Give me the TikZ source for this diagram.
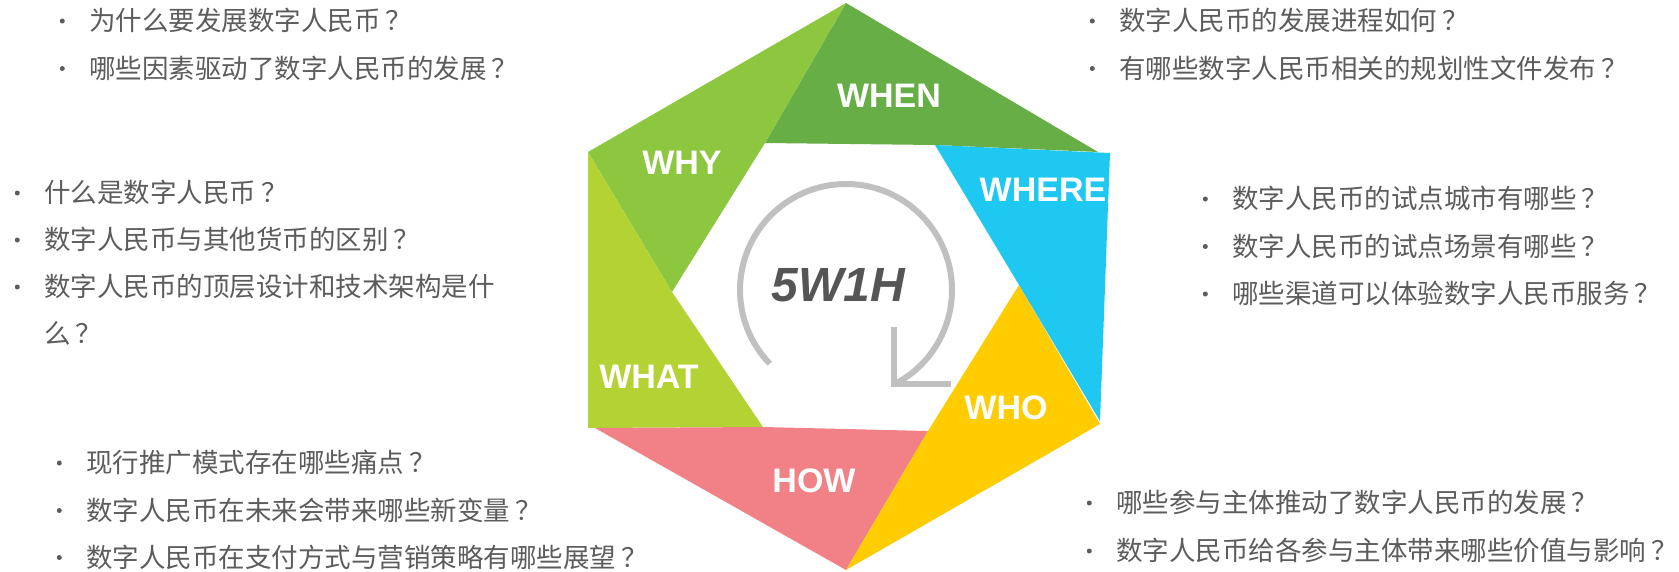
\documentclass[tikz,border=0pt]{standalone}
\usepackage{fontspec}
\setmainfont{Liberation Sans}
\newfontfamily\cjk{Noto Sans CJK SC}
\usetikzlibrary{positioning}
\definecolor{whyfill}{HTML}{8DC63F}
\definecolor{whenfill}{HTML}{67AE46}
\definecolor{wherefill}{HTML}{1FC8F1}
\definecolor{whofill}{HTML}{FFCC00}
\definecolor{howfill}{HTML}{F28187}
\definecolor{whatfill}{HTML}{B3D334}
\definecolor{qgray}{HTML}{5C5C5C}
\definecolor{ringgray}{HTML}{C0C0C0}
\definecolor{titlegray}{HTML}{555555}
% question mark set a little apart, as in the original
\newcommand{\qmark}{\kern0.2em？}

\begin{document}
\begin{tikzpicture}[
        x=1pt, y=-1pt,
        qline/.style={anchor=west, inner sep=0pt, text=qgray,
                      font=\cjk\fontsize{26.5}{30}\selectfont,
                      text height=22pt, text depth=3pt},
        qitem/.style={qline, label={[qdot]left:{}}},
        qdot/.style={circle, fill=qgray, minimum size=5pt, inner sep=0pt,
                     xshift=-24pt},
        seglabel/.style={text=white, font=\bfseries\fontsize{34}{34}\selectfont},
        ring/.style={draw=ringgray, line width=6pt}
    ]
    \fill[white] (0,0) rectangle (1679,571);
    \useasboundingbox (0,0) rectangle (1679,571);

    %% outer and inner corners of the hexagon
    \coordinate (top) at (846,3);
    \coordinate (ur)  at (1098,152);
    \coordinate (urc) at (1110,153);
    \coordinate (lrc) at (1100,421);
    \coordinate (lr)  at (1100,424);
    \coordinate (bot) at (846,570);
    \coordinate (llp) at (595,428);
    \coordinate (ll)  at (588,428);
    \coordinate (ul)  at (588,152);
    \coordinate (itl) at (765,143);
    \coordinate (itr) at (935,145);
    \coordinate (ir)  at (1019,285);
    \coordinate (ibr) at (928,431);
    \coordinate (ibl) at (763,427);
    \coordinate (il)  at (672,292);

    %% the six pieces
    \fill[whenfill]  (top) -- (ur) -- (itr) -- (itl) -- cycle;
    \fill[whyfill]   (ul) -- (top) -- (itl) -- (il) -- cycle;
    \fill[whatfill]  (ll) -- (ul) -- (il) -- (ibl) -- cycle;
    \fill[howfill]   (bot) -- (llp) -- (ibl) -- (ibr) -- cycle;
    \fill[whofill]   (lr) -- (bot) -- (ibr) -- (ir) -- cycle;
    \fill[wherefill] (urc) -- (lrc) -- (ir) -- (itr) -- cycle;

    \node[seglabel] (why)   at (682,163) {WHY};
    \node[seglabel] (when)  at (889,96)  {WHEN};
    \node[seglabel] (where) at (1043,190) {WHERE};
    \node[seglabel] (what)  at (649,377) {WHAT};
    \node[seglabel] (who)   at (1006,408) {WHO};
    \node[seglabel] (how)   at (814,481) {HOW};

    %% centre: ring arrow and title
    \coordinate (cen) at (846,290);
    \draw[ring] (cen) ++(-224:106) arc[start angle=-224, end angle=63, radius=106]
          coordinate (tip);
    \draw[ring, line join=miter] (tip) ++(0,-57) -- (tip) -- ++(57,0);
    \node[text=titlegray, font=\bfseries\itshape\fontsize{48}{48}\selectfont]
          (title) at (838,285) {5W1H};

    %% WHY questions
    \node[qitem] (why1) at (89,21) {为什么要发展数字人民币\qmark};
    \node[qitem, below=47.5pt of why1.west, anchor=west] (why2)
          {哪些因素驱动了数字人民币的发展\qmark};

    %% WHAT questions
    \node[qitem] (what1) at (44,193) {什么是数字人民币\qmark};
    \node[qitem, below=47pt of what1.west, anchor=west] (what2)
          {数字人民币与其他货币的区别\qmark};
    \node[qitem, below=47pt of what2.west, anchor=west] (what3)
          {数字人民币的顶层设计和技术架构是什};
    \node[qline, below=47pt of what3.west, anchor=west] (what3b) {么\qmark};

    %% WHEN questions
    \node[qitem] (when1) at (1119,21) {数字人民币的发展进程如何\qmark};
    \node[qitem, below=47.5pt of when1.west, anchor=west] (when2)
          {有哪些数字人民币相关的规划性文件发布\qmark};

    %% WHERE questions
    \node[qitem] (where1) at (1232,199) {数字人民币的试点城市有哪些\qmark};
    \node[qitem, below=47.5pt of where1.west, anchor=west] (where2)
          {数字人民币的试点场景有哪些\qmark};
    \node[qitem, below=47.5pt of where2.west, anchor=west] (where3)
          {哪些渠道可以体验数字人民币服务\qmark};

    %% HOW questions
    \node[qitem] (how1) at (86,463) {现行推广模式存在哪些痛点\qmark};
    \node[qitem, below=47.5pt of how1.west, anchor=west] (how2)
          {数字人民币在未来会带来哪些新变量\qmark};
    \node[qitem, below=47pt of how2.west, anchor=west] (how3)
          {数字人民币在支付方式与营销策略有哪些展望\qmark};

    %% WHO questions
    \node[qitem] (who1) at (1116,503) {哪些参与主体推动了数字人民币的发展\qmark};
    \node[qitem, below=48pt of who1.west, anchor=west] (who2)
          {数字人民币给各参与主体带来哪些价值与影响\qmark};

\end{tikzpicture}
\end{document}
